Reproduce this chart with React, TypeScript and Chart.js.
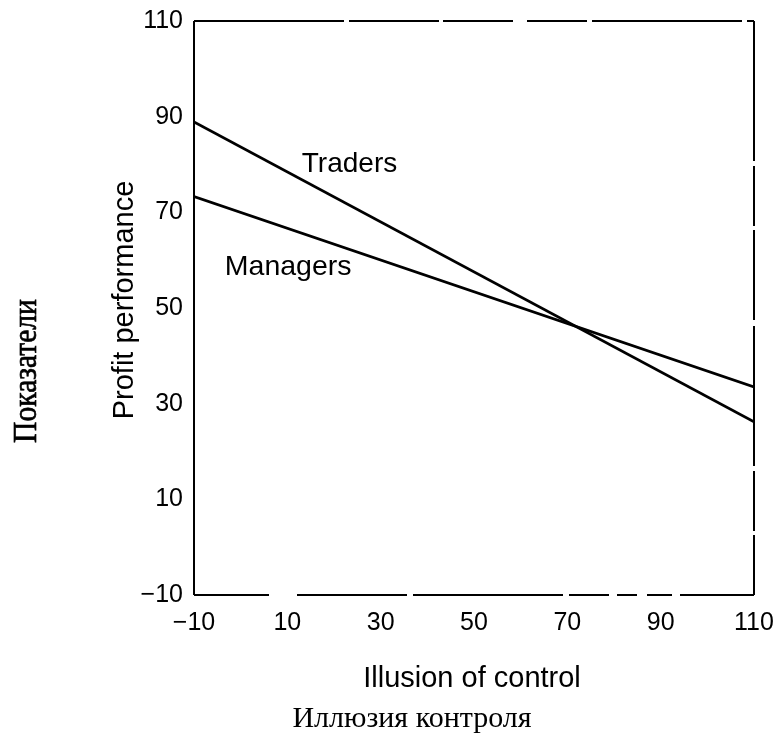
import React, { useEffect, useRef } from "react";
import { Chart, registerables } from "chart.js";

Chart.register(...registerables);

// ---- data ----
const illusionOfControl = [-10, 110];
const tradersProfit = [88.9, 26.2];
const managersProfit = [73.3, 33.5];
const xTickValues = [-10, 10, 30, 50, 70, 90, 110];
const yTickValues = [-10, 10, 30, 50, 70, 90, 110];
const seriesNames = ["Traders", "Managers"];
// label anchors in data units (x, y of text baseline start)
const tradersLabelAt = [13.1, 78.4];
const managersLabelAt = [-3.4, 56.9];

const xTitle = "Illusion of control";
const xTitleRu = "Иллюзия контроля";
const yTitle = "Profit performance";
const yTitleRu = "Показатели";

const fmt = (v: number) => (v < 0 ? "\u2212" + Math.abs(v) : String(v));

const decorPlugin = {
  id: "decor",
  afterDraw(chart: any) {
    const { ctx, chartArea, scales } = chart;
    const { left, right, top, bottom } = chartArea;
    ctx.save();
    ctx.strokeStyle = "#000";
    ctx.lineWidth = 2;
    // left frame: solid
    ctx.setLineDash([]);
    ctx.beginPath();
    ctx.moveTo(left, top);
    ctx.lineTo(left, bottom);
    ctx.stroke();
    // right frame
    ctx.setLineDash([140, 5, 60, 4, 90, 6]);
    ctx.beginPath();
    ctx.moveTo(right, top);
    ctx.lineTo(right, bottom);
    ctx.stroke();
    // top frame dashed
    ctx.setLineDash([150, 5, 90, 4, 70, 14, 60, 5]);
    ctx.beginPath();
    ctx.moveTo(left, top);
    ctx.lineTo(right, top);
    ctx.stroke();
    // bottom frame dashed
    ctx.setLineDash([75, 28, 110, 6, 150, 6, 40, 8, 20, 10, 25, 8]);
    ctx.beginPath();
    ctx.moveTo(left, bottom);
    ctx.lineTo(right, bottom);
    ctx.stroke();
    ctx.setLineDash([]);

    // series labels
    ctx.fillStyle = "#000";
    ctx.font = '28px "Liberation Sans", Arial, sans-serif';
    ctx.textAlign = "left";
    ctx.textBaseline = "alphabetic";
    const xs = scales.x;
    const ys = scales.y;
    ctx.fillText(
      seriesNames[0],
      xs.getPixelForValue(tradersLabelAt[0]),
      ys.getPixelForValue(tradersLabelAt[1])
    );
    ctx.font = '28.5px "Liberation Sans", Arial, sans-serif';
    ctx.fillText(
      seriesNames[1],
      xs.getPixelForValue(managersLabelAt[0]),
      ys.getPixelForValue(managersLabelAt[1])
    );

    // x titles
    ctx.textAlign = "center";
    ctx.font = '29px "Liberation Sans", Arial, sans-serif';
    ctx.fillText(xTitle, 472, 687);
    ctx.font = '30px "Liberation Serif", "Times New Roman", serif';
    ctx.fillText(xTitleRu, 412, 727);

    // y titles (rotated)
    ctx.save();
    ctx.translate(133, 300);
    ctx.rotate(-Math.PI / 2);
    ctx.font = '29px "Liberation Sans", Arial, sans-serif';
    ctx.fillText(yTitle, 0, 0);
    ctx.restore();

    ctx.save();
    ctx.translate(36, 371);
    ctx.rotate(-Math.PI / 2);
    ctx.scale(0.87, 1);
    ctx.font = '34px "Liberation Serif", "Times New Roman", serif';
    ctx.textAlign = "center";
    ctx.lineWidth = 0.7;
    ctx.strokeStyle = "#000";
    ctx.fillText(yTitleRu, 0, 0);
    ctx.strokeText(yTitleRu, 0, 0);
    ctx.restore();

    ctx.restore();
  },
};

export default function App() {
  const ref = useRef<HTMLCanvasElement | null>(null);

  useEffect(() => {
    if (!ref.current) return;
    const tickFont = { family: '"Liberation Sans", Arial, sans-serif', size: 25 };
    const chart = new Chart(ref.current, {
      type: "line",
      data: {
        datasets: [
          {
            label: seriesNames[0],
            data: illusionOfControl.map((x, i) => ({ x, y: tradersProfit[i] })),
            borderColor: "#000",
            borderWidth: 2.8,
            pointRadius: 0,
            fill: false,
          },
          {
            label: seriesNames[1],
            data: illusionOfControl.map((x, i) => ({ x, y: managersProfit[i] })),
            borderColor: "#000",
            borderWidth: 2.8,
            pointRadius: 0,
            fill: false,
          },
        ],
      },
      options: {
        responsive: false,
        animation: false,
        events: [],
        layout: { padding: { top: 21, right: 24, left: 0, bottom: 0 } },
        plugins: { legend: { display: false }, tooltip: { enabled: false }, title: { display: false } },
        scales: {
          x: {
            type: "linear",
            min: -10,
            max: 110,
            grid: { display: false, drawTicks: false },
            border: { display: false },
            afterBuildTicks: (s: any) => {
              s.ticks = xTickValues.map((value) => ({ value }));
            },
            afterFit: (s: any) => {
              s.height = 140;
              s.paddingLeft = 0;
              s.paddingRight = 0;
              s.paddingTop = 0;
              s.paddingBottom = 0;
            },
            ticks: {
              color: "#000",
              font: tickFont,
              padding: 13,
              maxRotation: 0,
              autoSkip: false,
              callback: (v: any) => fmt(Number(v)),
            },
          },
          y: {
            type: "linear",
            min: -10,
            max: 110,
            grid: { display: false, drawTicks: false },
            border: { display: false },
            afterBuildTicks: (s: any) => {
              s.ticks = yTickValues.map((value) => ({ value }));
            },
            afterFit: (s: any) => {
              s.width = 194;
              s.paddingLeft = 0;
              s.paddingRight = 0;
              s.paddingTop = 0;
              s.paddingBottom = 0;
            },
            ticks: {
              color: "#000",
              font: tickFont,
              padding: 11,
              autoSkip: false,
              callback: (v: any) => fmt(Number(v)),
            },
          },
        },
      },
      plugins: [decorPlugin],
    } as any);
    return () => chart.destroy();
  }, []);

  return (
    <div style={{ position: "fixed", left: 0, top: 0, width: 778, height: 735, background: "#fff" }}>
      <canvas ref={ref} width={778} height={735} style={{ display: "block" }} />
    </div>
  );
}
